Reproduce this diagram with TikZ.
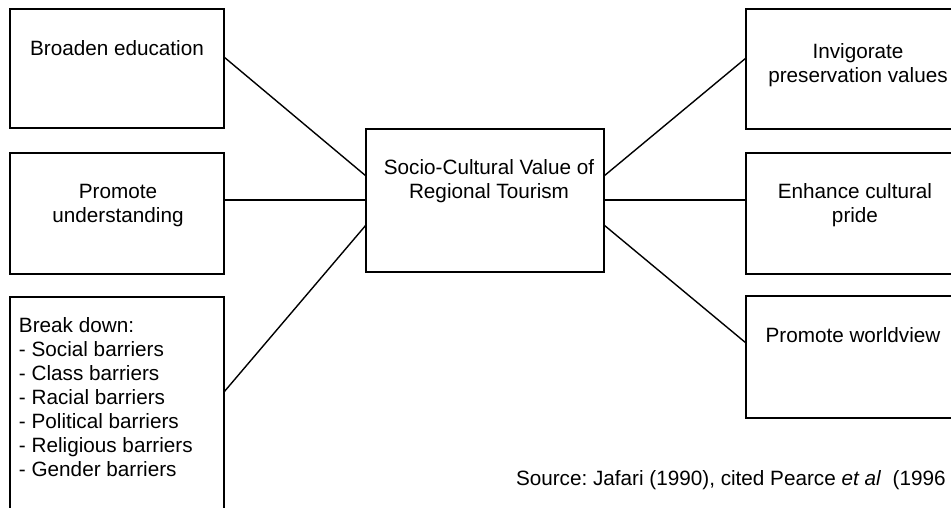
\documentclass[tikz,border=0pt]{standalone}
\usepackage{fontspec}
\setmainfont{Liberation Sans}
\usetikzlibrary{calc}
\frenchspacing
\begin{document}
\begin{tikzpicture}[x=1pt,y=-1pt,
  box/.style={draw, line width=1.4pt, rectangle, inner sep=0pt, outer sep=0pt},
  txt/.style={inner sep=0pt, outer sep=0pt, align=center, font=\fontsize{20.7}{24}\selectfont},
  link/.style={line width=1.4pt}]
\useasboundingbox (0,0) rectangle (951,507);
\clip (0,0) rectangle (951,507);
% boxes
\node[box, minimum width=214pt, minimum height=119pt] (b1) at (117,68.5) {};
\node[box, minimum width=214pt, minimum height=121pt] (b2) at (117,213.5) {};
\node[box, minimum width=214pt, minimum height=233pt] (b3) at (117,413.5) {};
\node[box, minimum width=238pt, minimum height=143pt] (c) at (485,200.5) {};
\node[box, minimum width=219pt, minimum height=120pt] (b4) at (855.5,69) {};
\node[box, minimum width=219pt, minimum height=121pt] (b5) at (855.5,213.5) {};
\node[box, minimum width=219pt, minimum height=122pt] (b6) at (855.5,357) {};
% texts
\node[txt, anchor=base] (t1) at (117,55) {Broaden education};
\node[txt, anchor=north] (t2) at (118,184.2) {Promote\\understanding};
\node[txt, anchor=north west, align=left] (t3) at (19,317.9) {Break down:\\- Social barriers\\- Class barriers\\- Racial barriers\\- Political barriers\\- Religious barriers\\- Gender barriers};
\node[txt, anchor=north] (tc) at (489,159.5) {Socio-Cultural Value of\\Regional Tourism};
\node[txt, anchor=north] (t4) at (858,43.2) {Invigorate\\preservation values};
\node[txt, anchor=north] (t5) at (855,183.2) {Enhance cultural\\pride};
\node[txt, anchor=base] (t6) at (853,342) {Promote worldview};
\node[txt, anchor=base west] (src) at (516,485) {Source: Jafari (1990), cited Pearce \textit{et al}\ \ (1996};
% connectors
\draw[link] ($(b1.north east)+(0,48)$) -- ($(c.north west)+(0,47)$);
\draw[link] ($(b2.north east)+(0,47)$) -- ($(c.north west)+(0,71)$);
\draw[link] ($(b3.north east)+(0,95)$) -- ($(c.north west)+(0,96)$);
\draw[link] ($(c.north east)+(0,47)$) -- ($(b4.north west)+(0,49)$);
\draw[link] ($(c.north east)+(0,71)$) -- ($(b5.north west)+(0,47)$);
\draw[link] ($(c.north east)+(0,96)$) -- ($(b6.north west)+(0,47)$);
\end{tikzpicture}
\end{document}
